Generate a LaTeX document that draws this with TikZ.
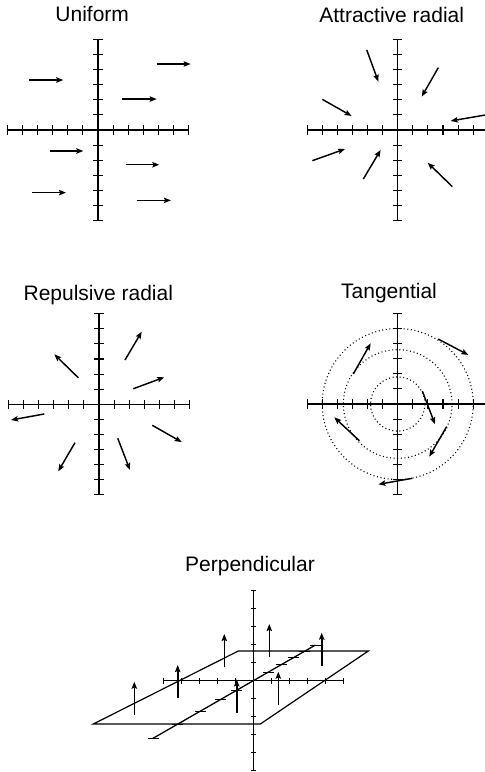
\documentclass[tikz,border=0pt]{standalone}
\usepackage{fontspec}
\setmainfont{Liberation Sans}
\usetikzlibrary{arrows.meta}

\begin{document}
\begin{tikzpicture}[
    x=1pt, y=-1pt,
    % panel titles
    ptitle/.style={anchor=base, font=\fontsize{21}{25}\selectfont, inner sep=0pt},
    % axes and their tick marks
    axis/.style={line width=1.3pt},
    tick/.style={line width=1.1pt},
    % field vectors
    vec/.style={-{Stealth[length=7pt,width=5.4pt,inset=1.2pt]}, line width=1.45pt},
    nvec/.style={vec, line width=1.6pt},
    % dotted orbits of the tangential field
    orbit/.style={line width=1.1pt, dash pattern=on 1pt off 2.6pt},
    % one planar panel: origin given in pixels, then one tick = one unit
    panel/.style={x=15.1pt, y=15.1pt}
  ]
  \useasboundingbox (0,0) rectangle (485,772);

  % ===================== titles =====================
  \node[ptitle] (tunif) at (92.2,21)    {Uniform};
  \node[ptitle] (tattr) at (391.7,22.5) {Attractive radial};
  \node[ptitle] (trep)  at (98.3,300.5) {Repulsive radial};
  \node[ptitle] (ttan)  at (389,298.5)  {Tangential};
  \node[ptitle] (tperp) at (250,571.7)  {Perpendicular};

  % ===================== planar axes (four panels) =====================
  \foreach \ox/\oy in {98/130, 397.7/130, 99/404.3, 397.7/404} {
    \begin{scope}[shift={(\ox,\oy)}, panel]
      \draw[axis] (-6,0) -- (6,0);
      \draw[axis] (0,-6) -- (0,6);
      \foreach \k in {-6,...,6} {
        \draw[tick] (\k,-0.3) -- (\k,0.3);
        \draw[tick] (-0.3,\k) -- (0.3,\k);
      }
    \end{scope}
  }

  % ===================== uniform =====================
  \begin{scope}[shift={(98,130)}, panel]
    \draw[vec] (-4.55,3.31)  -- (-2.30,3.31);
    \draw[vec] (3.89,4.37)   -- (6.14,4.37);
    \draw[vec] (1.61,2.05)   -- (3.89,2.05);
    \draw[vec] (-3.18,-1.39) -- (-0.97,-1.39);
    \draw[vec] (1.83,-2.30)  -- (4.06,-2.30);
    \draw[vec] (-4.37,-4.15) -- (-2.12,-4.15);
    \draw[vec] (2.58,-4.66)  -- (4.83,-4.66);
  \end{scope}

  % ===================== attractive radial =====================
  \begin{scope}[shift={(397.7,130)}, panel]
    \draw[vec] (-2.05,5.30)  -- (-1.28,3.20);
    \draw[vec] (2.69,4.13)   -- (1.59,2.21);
    \draw[vec] (-4.99,2.03)  -- (-3.05,0.93);
    \draw[vec] (5.78,0.99)   -- (3.51,0.60);
    \draw[vec] (-5.65,-2.03) -- (-3.49,-1.26);
    \draw[vec] (-2.28,-3.25) -- (-1.13,-1.32);
    \draw[vec] (3.62,-3.75)  -- (1.99,-2.17);
  \end{scope}

  % ===================== repulsive radial =====================
  \begin{scope}[shift={(99,404.3)}, panel]
    \draw[vec] (-1.37,1.76)  -- (-2.96,3.31);
    \draw[vec] (1.72,2.93)   -- (2.83,4.81);
    \draw[vec] (2.27,1.03)   -- (4.32,1.79);
    \draw[vec] (-3.62,-0.64) -- (-5.83,-1.04);
    \draw[vec] (3.53,-1.39)  -- (5.48,-2.50);
    \draw[vec] (-1.59,-2.54) -- (-2.70,-4.44);
    \draw[vec] (1.24,-2.25)  -- (2.05,-4.35);
  \end{scope}

  % ===================== tangential =====================
  \begin{scope}[shift={(397.7,404)}, panel]
    \foreach \r in {1.8,3.6,5}
      \draw[orbit] (0,0) circle (\r);
    \draw[vec] (2.69,4.30)   -- (4.68,3.25);
    \draw[vec] (-2.94,1.99)  -- (-1.79,4.02);
    \draw[vec] (1.63,0.86)   -- (2.47,-1.34);
    \draw[vec] (3.24,-1.50)  -- (2.09,-3.49);
    \draw[vec] (-2.54,-2.43) -- (-4.20,-0.88);
    \draw[vec] (0.97,-4.92)  -- (-1.28,-5.32);
  \end{scope}

  % ===================== perpendicular (plane in perspective) =====================
  \begin{scope}[shift={(253.3,680.7)}, y=1pt]
    % the plane
    \draw[line width=1.2pt] (-160,-43.3) -- (7,-43.3) -- (115,29.7) -- (-15,29.7) -- cycle;
    % in-plane and normal axes
    \draw[axis] (-90,0) -- (90,0);
    \draw[axis] (0,-90.3) -- (0,90.3);
    \foreach \k in {-5,...,5} {
      \draw[tick] (\k*18,-2.8) -- (\k*18,2.8);
      \draw[tick] (-2.8,\k*18) -- (2.8,\k*18);
    }
    % depth axis, ticks closer together towards the back
    \draw[axis] (-100.3,-57.6) -- (61.7,35.4);
    \foreach \d in {-100.3,-76,-53.3,-33.3,-16.6,15,28.4,40,51.5,61.7}
      \draw[tick] (\d-5.5,0.574*\d) -- (\d+5.5,0.574*\d);
    % vectors normal to the plane
    \foreach \vx/\vy in {-119/-34.3, -75.6/-17.6, -29/13.4, 16/23.4,
                         68.4/14.7, -16.6/-32, 25/-24.3}
      \draw[nvec] (\vx,\vy) -- (\vx,\vy+33.3);
  \end{scope}

\end{tikzpicture}
\end{document}
